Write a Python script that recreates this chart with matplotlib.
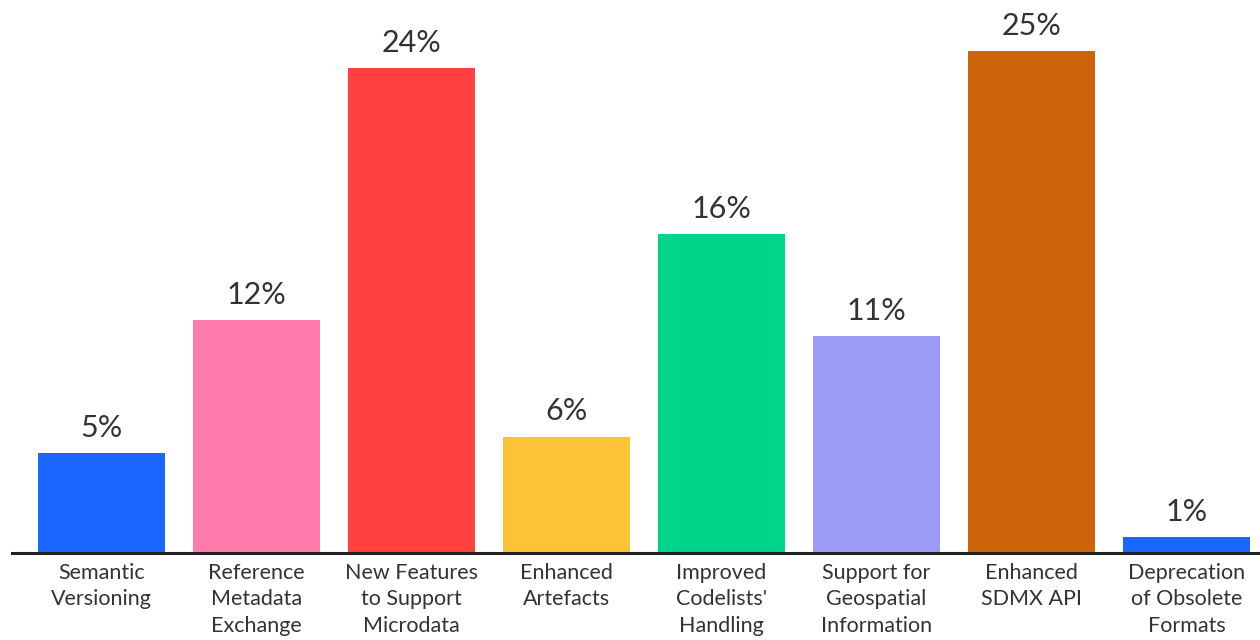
import matplotlib.pyplot as plt

# --- Datos ---
categories = ["Semantic\nVersioning", "Reference\nMetadata\nExchange",
              "New Features\nto Support\nMicrodata", "Enhanced\nArtefacts",
              "Improved\nCodelists'\nHandling", "Support for\nGeospatial\nInformation",
              "Enhanced\nSDMX API", "Deprecation\nof Obsolete\nFormats"]
values = [4.98, 11.6, 24.15, 5.8, 15.9, 10.8, 25.0, 0.8]
value_labels = ["5%", "12%", "24%", "6%", "16%", "11%", "25%", "1%"]
colors = ["#1A66FF", "#FF7BAC", "#FF403F", "#FDC336",
          "#00D68A", "#9B9BF5", "#CC640A", "#1A66FF"]

plt.rcParams['font.family'] = ['Lato', 'DejaVu Sans']

fig = plt.figure(figsize=(12.6, 6.4), dpi=100)
ax = fig.add_axes([12/1260, 87/640, 1248/1260, 502/640])

x = list(range(len(values)))
ax.bar(x, values, width=0.82, color=colors)

# Etiquetas de porcentaje
for xi, v, lab in zip(x, values, value_labels):
    ax.annotate(lab, (xi, v), xytext=(0, 8), textcoords='offset points',
                ha='center', va='bottom', fontsize=22, color='#333333')

ax.set_xlim(-0.577, 7.474)
ax.set_ylim(0, 25)
ax.set_xticks(x)
ax.set_xticklabels(categories, fontsize=15.5, color='#333333', linespacing=1.4)
ax.tick_params(axis='x', length=0, pad=7)
ax.set_yticks([])
for s in ['top', 'right', 'left']:
    ax.spines[s].set_visible(False)
ax.spines['bottom'].set_linewidth(2.2)
ax.spines['bottom'].set_color('#222222')

fig.savefig("out.png", dpi=100)
